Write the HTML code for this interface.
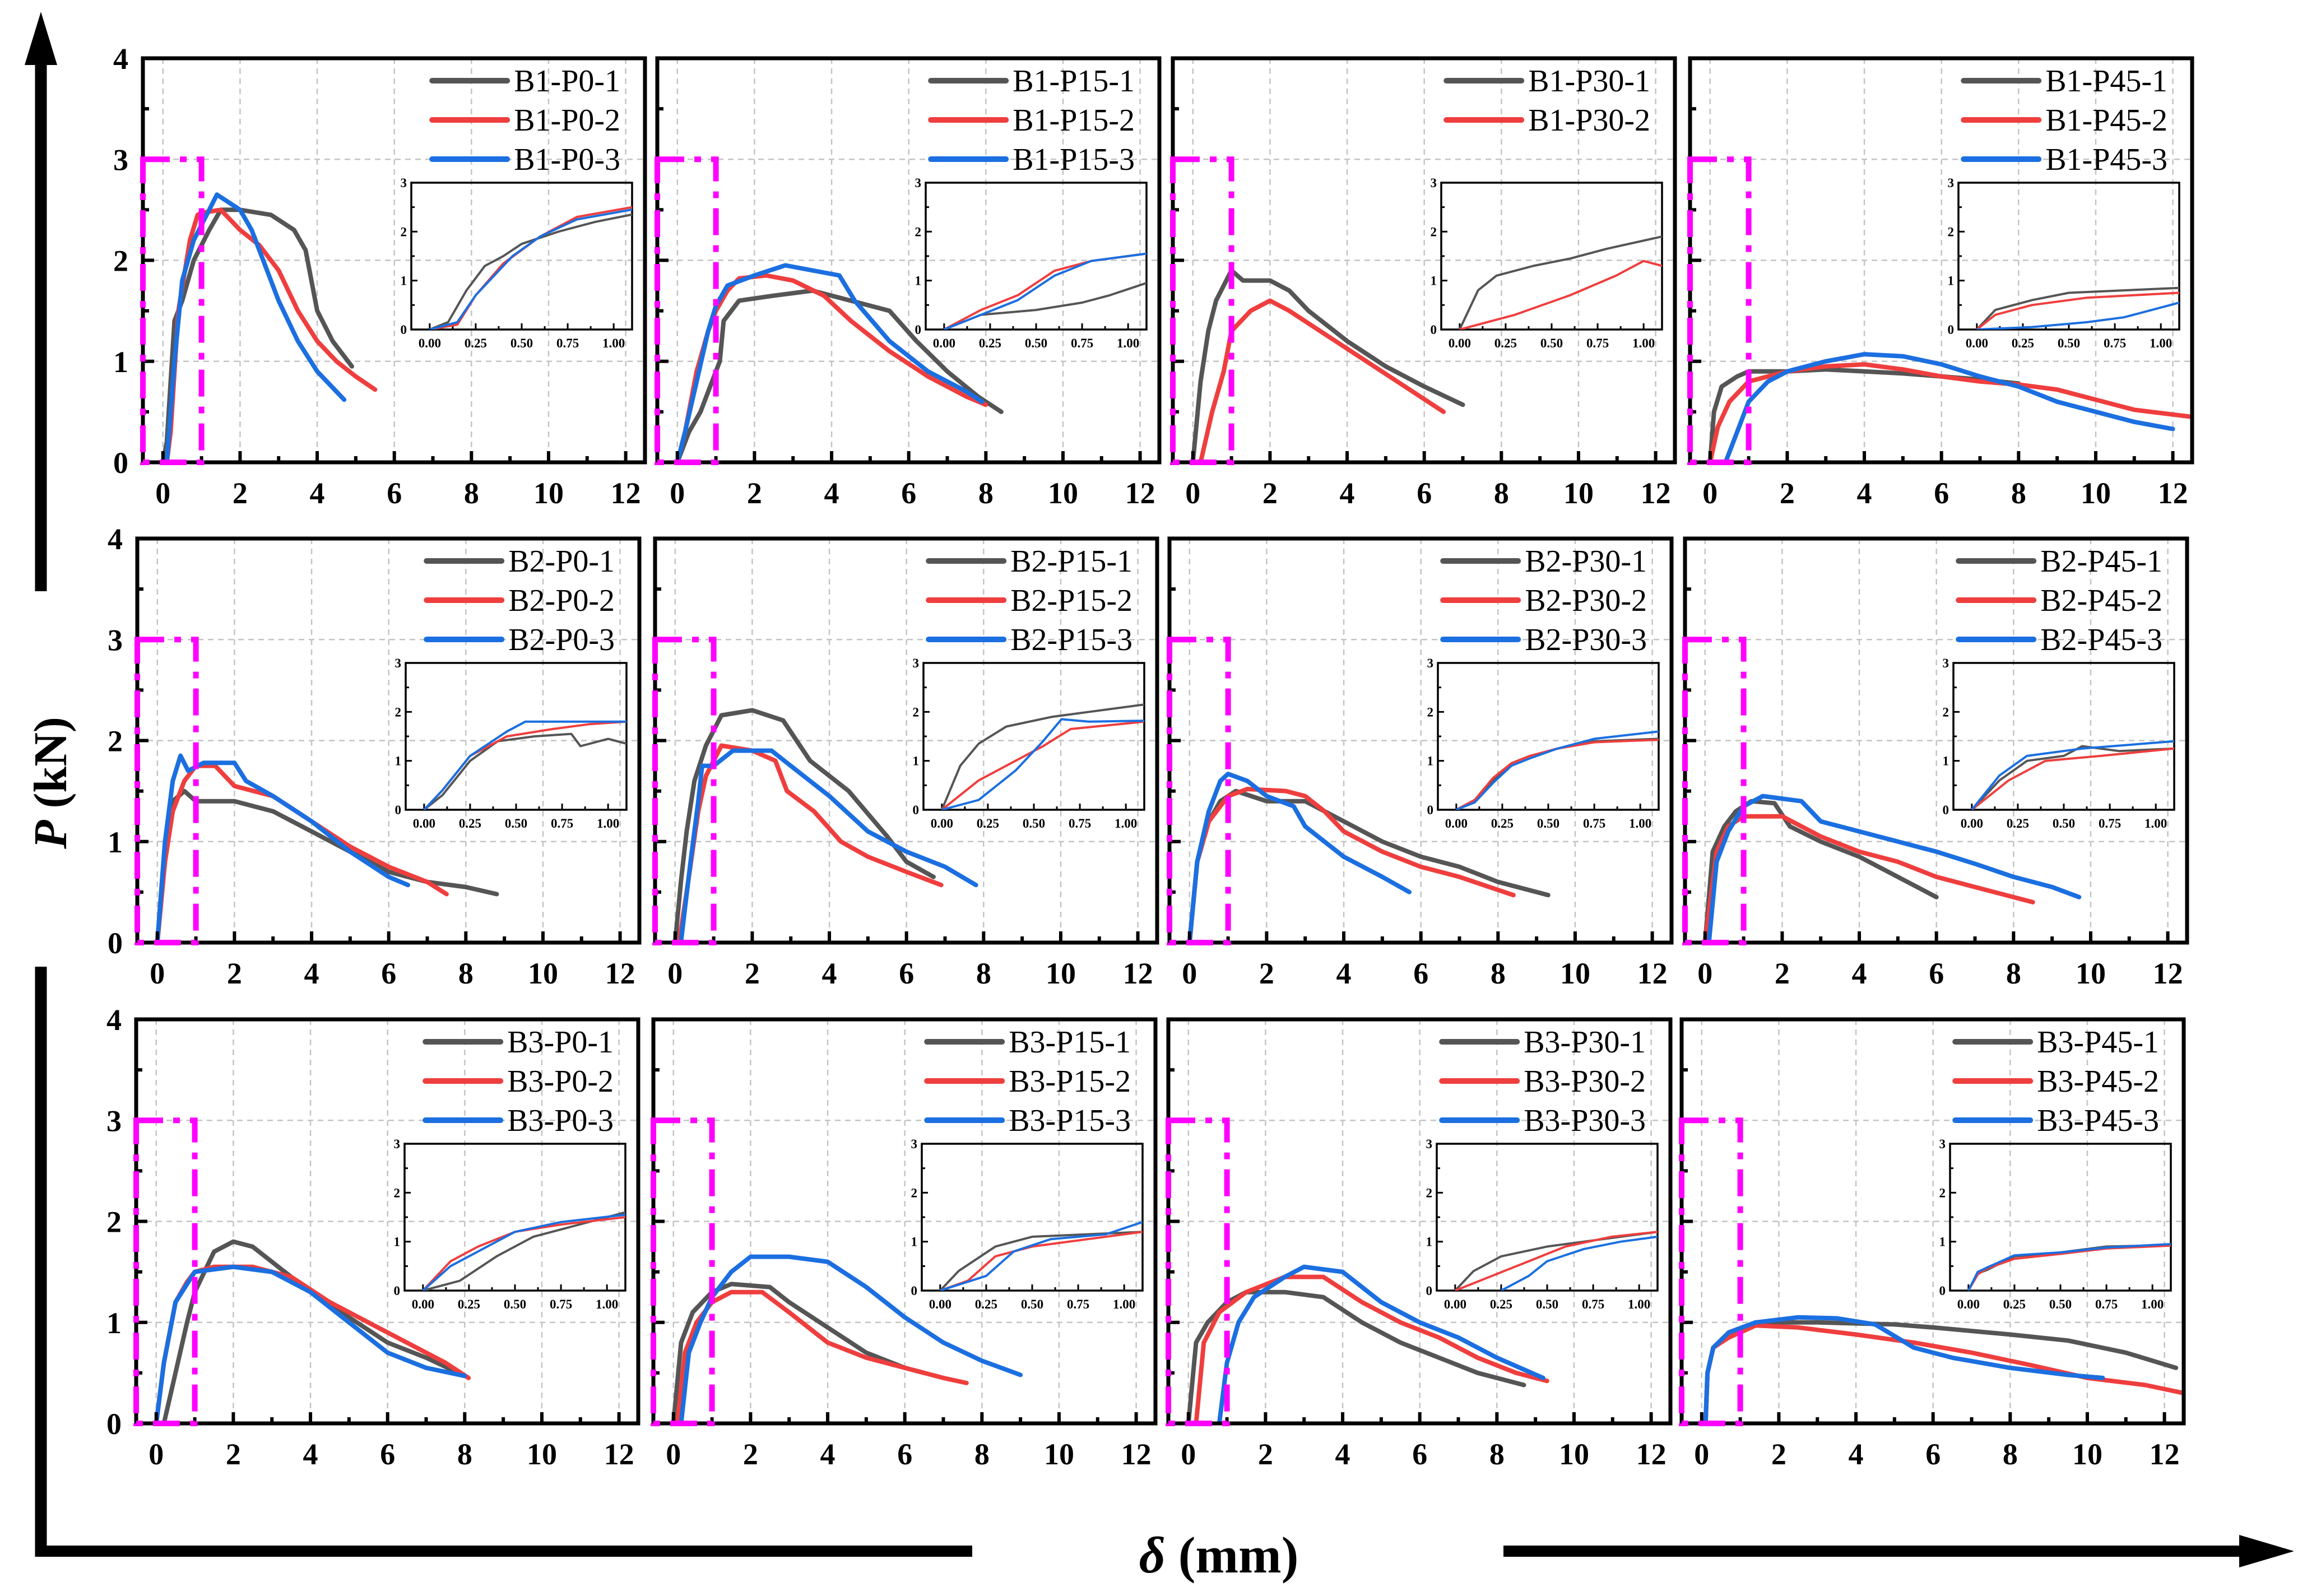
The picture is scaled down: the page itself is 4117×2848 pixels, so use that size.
<!DOCTYPE html>
<html><head><meta charset="utf-8">
<style>
html,body{margin:0;padding:0;background:#fff;}
svg{display:block;}
</style></head>
<body>
<svg id="chart" width="4117" height="2848" viewBox="0 0 4117 2848" xmlns="http://www.w3.org/2000/svg">
<rect width="4117" height="2848" fill="#fff"/>
<g>
<line x1="73" y1="100" x2="73" y2="1055" stroke="#000" stroke-width="21"/>
<line x1="73" y1="1725" x2="73" y2="2778" stroke="#000" stroke-width="21"/>
<polygon points="73,21 44,116 102,116" fill="#000"/>
</g>
<g>
<line x1="63" y1="2768" x2="1735" y2="2768" stroke="#000" stroke-width="20"/>
<line x1="2683" y1="2768" x2="4000" y2="2768" stroke="#000" stroke-width="20"/>
<polygon points="4094,2768 3996,2739 3996,2797" fill="#000"/>
</g>
<text transform="translate(118,1397) rotate(-90)" text-anchor="middle" font-family="Liberation Serif, serif" font-weight="bold" font-size="84"><tspan font-style="italic">P</tspan>  (kN)</text>
<text x="2175" y="2806" text-anchor="middle" font-family="Liberation Serif, serif" font-weight="bold" font-size="92"><tspan font-style="italic">δ</tspan>  (mm)</text>
<g id="panels"></g>
</svg>
<script>
// ---- data (x in mm, y in kN) ----
const panelNames = ["B1-P0","B1-P15","B1-P30","B1-P45","B2-P0","B2-P15","B2-P30","B2-P45","B3-P0","B3-P15","B3-P30","B3-P45"];
const xTicks = [0,2,4,6,8,10,12];
const yTicks = [0,1,2,3,4];
const insetXTicks = ["0.00","0.25","0.50","0.75","1.00"];
const insetYTicks = [0,1,2,3];

const B1P0_main = [
 [[0,0],[0.1,0.2],[0.3,1.4],[0.5,1.6],[0.8,2.0],[1.2,2.3],[1.5,2.5],[2,2.5],[2.8,2.45],[3.4,2.3],[3.7,2.1],[4.0,1.5],[4.4,1.2],[4.9,0.95]],
 [[0.1,0],[0.2,0.3],[0.4,1.5],[0.7,2.2],[0.9,2.45],[1.0,2.47],[1.5,2.5],[2.0,2.3],[2.5,2.15],[3.0,1.9],[3.5,1.5],[4.0,1.2],[4.5,1.0],[5.0,0.85],[5.5,0.72]],
 [[0.1,0],[0.3,1.0],[0.5,1.8],[0.8,2.2],[1.2,2.5],[1.4,2.65],[2.0,2.5],[2.3,2.3],[2.6,2.0],[3.0,1.6],[3.5,1.2],[4.0,0.9],[4.5,0.7],[4.7,0.62]]];
const B1P0_inset = [
 [[0,0],[0.1,0.15],[0.2,0.8],[0.3,1.3],[0.4,1.5],[0.5,1.75],[0.7,2.0],[0.9,2.2],[1.1,2.35]],
 [[0,0],[0.15,0.1],[0.25,0.7],[0.4,1.35],[0.6,1.9],[0.8,2.3],[1.1,2.5]],
 [[0,0],[0.15,0.15],[0.25,0.7],[0.45,1.5],[0.6,1.9],[0.8,2.25],[1.1,2.45]]];

const B1P15_main = [
 [[0,0],[0.3,0.3],[0.6,0.5],[0.9,0.8],[1.1,1.0],[1.2,1.4],[1.6,1.6],[2.5,1.65],[3.5,1.7],[4.5,1.6],[5.5,1.5],[6.2,1.2],[7,0.9],[7.8,0.65],[8.4,0.5]],
 [[0,0],[0.2,0.3],[0.5,0.9],[0.8,1.3],[1.0,1.5],[1.3,1.7],[1.6,1.82],[2.3,1.85],[3,1.8],[3.8,1.65],[4.5,1.4],[5.5,1.1],[6.5,0.85],[7.5,0.65],[8,0.57]],
 [[0,0],[0.2,0.3],[0.5,0.8],[0.8,1.3],[1.0,1.55],[1.3,1.75],[2,1.85],[2.8,1.95],[3.5,1.9],[4.2,1.85],[4.6,1.6],[5.5,1.2],[6.5,0.9],[7.5,0.7],[7.9,0.6]]];
const B1P15_inset = [
 [[0,0],[0.2,0.3],[0.5,0.4],[0.75,0.55],[0.9,0.7],[1.1,0.95]],
 [[0,0],[0.2,0.4],[0.4,0.7],[0.6,1.2],[0.8,1.4],[1.1,1.55]],
 [[0,0],[0.2,0.3],[0.4,0.6],[0.6,1.1],[0.8,1.4],[1.1,1.55]]];

const B1P30_main = [
 [[0,0],[0.2,0.8],[0.4,1.3],[0.6,1.6],[0.8,1.75],[1.0,1.9],[1.3,1.8],[2,1.8],[2.5,1.7],[3,1.5],[4,1.2],[5,0.95],[6,0.75],[7,0.57]],
 [[0.2,0],[0.5,0.5],[0.8,0.9],[1.0,1.3],[1.5,1.5],[2.0,1.6],[2.5,1.5],[3.5,1.25],[4.5,1.0],[5.5,0.75],[6.5,0.5]]];
const B1P30_inset = [
 [[0,0],[0.1,0.8],[0.2,1.1],[0.4,1.3],[0.6,1.45],[0.8,1.65],[1.1,1.9]],
 [[0,0],[0.1,0.1],[0.3,0.3],[0.6,0.7],[0.85,1.1],[1.0,1.4],[1.1,1.3]]];

const B1P45_main = [
 [[0,0],[0.1,0.5],[0.3,0.75],[0.7,0.85],[1,0.9],[2,0.9],[3,0.92],[4,0.9],[5,0.88],[6,0.85],[7,0.82],[8,0.78]],
 [[0,0],[0.2,0.35],[0.5,0.6],[1,0.8],[2,0.9],[3,0.95],[4,0.97],[5,0.92],[6,0.85],[7,0.8],[8,0.77],[9,0.72],[10,0.62],[11,0.52],[12.5,0.45]],
 [[0.4,0],[0.7,0.3],[1,0.6],[1.5,0.8],[2,0.9],[3,1.0],[4,1.07],[5,1.05],[6,0.97],[7,0.85],[8,0.75],[9,0.6],[10,0.5],[11,0.4],[12,0.33]]];
const B1P45_inset = [
 [[0,0],[0.1,0.4],[0.3,0.6],[0.5,0.75],[0.8,0.8],[1.1,0.85]],
 [[0,0],[0.1,0.3],[0.3,0.5],[0.6,0.65],[1.1,0.75]],
 [[0,0],[0.3,0.05],[0.6,0.15],[0.8,0.25],[1.1,0.55]]];

const B2P0_main = [
 [[0,0],[0.2,1.0],[0.4,1.4],[0.7,1.5],[1,1.4],[2,1.4],[3,1.3],[4,1.1],[5,0.9],[6,0.7],[7,0.6],[8,0.55],[8.8,0.48]],
 [[0,0],[0.2,0.8],[0.4,1.3],[0.7,1.6],[1,1.75],[1.5,1.75],[2,1.55],[3,1.45],[4,1.2],[5,0.95],[6,0.75],[7,0.6],[7.5,0.48]],
 [[0,0],[0.2,1.0],[0.4,1.6],[0.6,1.85],[0.8,1.7],[1.2,1.78],[2,1.78],[2.3,1.6],[3,1.45],[4,1.2],[5,0.9],[6,0.65],[6.5,0.57]]];
const B2P0_inset = [
 [[0,0],[0.1,0.3],[0.25,1.0],[0.4,1.4],[0.6,1.5],[0.8,1.55],[0.85,1.3],[1.0,1.45],[1.1,1.35]],
 [[0,0],[0.1,0.4],[0.25,1.1],[0.45,1.5],[0.7,1.65],[0.9,1.75],[1.1,1.8]],
 [[0,0],[0.1,0.4],[0.25,1.1],[0.45,1.6],[0.55,1.8],[0.8,1.8],[1.1,1.8]]];

const B2P15_main = [
 [[0,0],[0.15,0.6],[0.3,1.1],[0.5,1.6],[0.8,1.95],[1.0,2.1],[1.2,2.25],[2,2.3],[2.8,2.2],[3.5,1.8],[4.5,1.5],[5.5,1.05],[6,0.8],[6.7,0.65]],
 [[0.1,0],[0.3,0.5],[0.6,1.3],[0.8,1.65],[1.2,1.95],[2,1.9],[2.6,1.8],[2.9,1.5],[3.6,1.3],[4.3,1.0],[5,0.85],[6,0.7],[6.9,0.57]],
 [[0.15,0],[0.4,0.8],[0.6,1.4],[0.7,1.75],[1,1.75],[1.5,1.9],[2.5,1.9],[3,1.75],[4,1.45],[5,1.1],[6,0.9],[7,0.75],[7.8,0.57]]];
const B2P15_inset = [
 [[0,0],[0.1,0.9],[0.2,1.35],[0.35,1.7],[0.6,1.9],[0.8,2.0],[1.1,2.15]],
 [[0,0],[0.2,0.6],[0.35,0.9],[0.55,1.3],[0.7,1.65],[1.1,1.8]],
 [[0,0],[0.2,0.2],[0.4,0.8],[0.55,1.4],[0.65,1.85],[0.8,1.8],[1.1,1.82]]];

const B2P30_main = [
 [[0,0],[0.2,0.8],[0.5,1.2],[0.8,1.4],[1.2,1.5],[2,1.4],[3,1.4],[4,1.2],[5,1.0],[6,0.85],[7,0.75],[8,0.6],[9.3,0.47]],
 [[0,0],[0.2,0.8],[0.5,1.2],[1,1.45],[1.5,1.52],[2.5,1.5],[3,1.45],[3.5,1.3],[4,1.1],[5,0.9],[6,0.75],[7,0.65],[8.4,0.47]],
 [[0,0],[0.2,0.8],[0.5,1.3],[0.8,1.6],[1,1.67],[1.5,1.6],[2,1.45],[2.7,1.35],[3,1.15],[3.5,1.0],[4,0.85],[5,0.65],[5.7,0.5]]];
const B2P30_inset = [
 [[0,0],[0.1,0.2],[0.2,0.6],[0.3,0.95],[0.4,1.1],[0.55,1.25],[0.75,1.4],[1.1,1.45]],
 [[0,0],[0.1,0.2],[0.2,0.65],[0.3,0.95],[0.4,1.1],[0.55,1.25],[0.75,1.38],[1.1,1.43]],
 [[0,0],[0.1,0.15],[0.2,0.55],[0.3,0.9],[0.4,1.05],[0.55,1.25],[0.75,1.45],[1.1,1.6]]];

const B2P45_main = [
 [[0,0],[0.2,0.9],[0.5,1.15],[0.8,1.3],[1.2,1.4],[1.8,1.38],[2.2,1.15],[3,1.0],[4,0.85],[5,0.65],[6,0.45]],
 [[0,0],[0.3,0.9],[0.6,1.15],[1,1.25],[2,1.25],[3,1.05],[4,0.9],[5,0.8],[6,0.65],[7,0.55],[8.5,0.4]],
 [[0.1,0],[0.3,0.8],[0.6,1.1],[1,1.35],[1.5,1.45],[2.5,1.4],[3,1.2],[4,1.1],[5,1.0],[6,0.9],[7,0.78],[8,0.65],[9,0.55],[9.7,0.45]]];
const B2P45_inset = [
 [[0,0],[0.15,0.6],[0.3,1.0],[0.5,1.1],[0.6,1.3],[0.8,1.2],[1.1,1.25]],
 [[0,0],[0.2,0.6],[0.4,1.0],[0.7,1.1],[1.1,1.25]],
 [[0,0],[0.15,0.7],[0.3,1.1],[0.6,1.25],[1.1,1.4]]];

const B3P0_main = [
 [[0.2,0],[0.5,0.5],[0.8,1.0],[1,1.3],[1.5,1.7],[2,1.8],[2.5,1.75],[3,1.6],[4,1.3],[5,1.05],[6,0.8],[7,0.65],[8,0.47]],
 [[0,0],[0.2,0.6],[0.5,1.2],[0.8,1.4],[1,1.5],[1.5,1.55],[2.5,1.55],[3.5,1.45],[4.5,1.2],[5.5,1.0],[6.5,0.8],[7.5,0.6],[8.1,0.45]],
 [[0,0],[0.2,0.6],[0.5,1.2],[1,1.5],[2,1.55],[3,1.5],[4,1.3],[5,1.0],[6,0.7],[7,0.55],[8,0.47]]];
const B3P0_inset = [
 [[0,0],[0.2,0.2],[0.4,0.7],[0.6,1.1],[0.8,1.3],[1.1,1.6]],
 [[0,0],[0.15,0.6],[0.3,0.9],[0.5,1.2],[0.75,1.35],[1.1,1.5]],
 [[0,0],[0.15,0.5],[0.3,0.8],[0.5,1.2],[0.75,1.4],[1.1,1.55]]];

const B3P15_main = [
 [[0,0],[0.2,0.8],[0.5,1.1],[1,1.3],[1.5,1.38],[2.5,1.35],[3,1.2],[4,0.95],[5,0.7],[6,0.55],[6.5,0.5]],
 [[0.1,0],[0.3,0.7],[0.6,1.0],[1,1.2],[1.5,1.3],[2.3,1.3],[3,1.1],[4,0.8],[5,0.65],[6,0.55],[7,0.45],[7.6,0.4]],
 [[0.2,0],[0.4,0.7],[0.7,1.0],[1,1.25],[1.5,1.5],[2,1.65],[3,1.65],[4,1.6],[5,1.35],[6,1.05],[7,0.8],[8,0.62],[9,0.48]]];
const B3P15_inset = [
 [[0,0],[0.1,0.4],[0.3,0.9],[0.5,1.1],[1.1,1.2]],
 [[0,0],[0.15,0.2],[0.3,0.7],[0.5,0.9],[0.8,1.05],[1.1,1.2]],
 [[0,0],[0.25,0.3],[0.4,0.8],[0.6,1.05],[0.9,1.15],[1.1,1.4]]];

const B3P30_main = [
 [[0,0],[0.2,0.8],[0.5,1.0],[1,1.2],[1.5,1.3],[2.5,1.3],[3.5,1.25],[4.5,1.0],[5.5,0.8],[6.5,0.65],[7.5,0.5],[8.7,0.38]],
 [[0.2,0],[0.4,0.8],[0.8,1.1],[1.5,1.3],[2.5,1.45],[3.5,1.45],[4.5,1.2],[5.5,1.0],[6.5,0.85],[7.5,0.65],[8.5,0.5],[9.3,0.42]],
 [[0.8,0],[1.0,0.6],[1.3,1.0],[1.7,1.25],[2.5,1.45],[3,1.55],[4,1.5],[5,1.2],[6,1.0],[7,0.85],[8,0.65],[9.2,0.45]]];
const B3P30_inset = [
 [[0,0],[0.1,0.4],[0.25,0.7],[0.5,0.9],[0.8,1.05],[1.1,1.2]],
 [[0,0],[0.2,0.3],[0.4,0.6],[0.6,0.9],[0.85,1.1],[1.1,1.2]],
 [[0.25,0],[0.4,0.3],[0.5,0.6],[0.7,0.85],[0.9,1.0],[1.1,1.1]]];

const B3P45_main = [
 [[0.1,0],[0.15,0.5],[0.3,0.75],[0.7,0.9],[1.4,1.0],[3,1.0],[5,0.98],[6,0.95],[8,0.88],[9.5,0.82],[11,0.7],[12.3,0.55]],
 [[0.1,0],[0.15,0.5],[0.3,0.75],[0.7,0.85],[1.4,0.97],[2.5,0.95],[4,0.88],[5.5,0.8],[7,0.7],[8.5,0.58],[10,0.45],[11.5,0.38],[12.5,0.3]],
 [[0.1,0],[0.15,0.5],[0.3,0.75],[0.7,0.9],[1.4,1.0],[2.5,1.05],[3.5,1.04],[4.5,0.98],[5.5,0.75],[6.5,0.65],[8,0.55],[9.5,0.48],[10.4,0.45]]];
const B3P45_inset = [
 [[0,0],[0.05,0.35],[0.1,0.42],[0.25,0.7],[0.5,0.78],[0.75,0.9],[1.1,0.93]],
 [[0,0],[0.05,0.33],[0.1,0.45],[0.25,0.65],[0.5,0.75],[0.75,0.86],[1.1,0.92]],
 [[0,0],[0.05,0.38],[0.1,0.47],[0.25,0.72],[0.5,0.78],[0.75,0.88],[1.1,0.95]]];

const mainData = [B1P0_main,B1P15_main,B1P30_main,B1P45_main,B2P0_main,B2P15_main,B2P30_main,B2P45_main,B3P0_main,B3P15_main,B3P30_main,B3P45_main];
const insetData = [B1P0_inset,B1P15_inset,B1P30_inset,B1P45_inset,B2P0_inset,B2P15_inset,B2P30_inset,B2P45_inset,B3P0_inset,B3P15_inset,B3P30_inset,B3P45_inset];

// ---- layout ----
const NS = "http://www.w3.org/2000/svg";
const colors = ["#555555","#ef3e3e","#1b6fe0"];
const rowTops = [104, 961, 1819];
const colLefts = [[255,1173,2093,3016],[245,1169,2087,3007],[243,1166,2085,3001]];
const PW = 896, PH = 721;
const XMIN = -0.52, XMAX = 12.5, YMIN = 0, YMAX = 4;
const IX = 479, IY = 222, IW = 394, IH = 262, IXMIN = -0.1, IXMAX = 1.1, IYMAX = 3;

function mk(tag, attrs, parent) {
  const e = document.createElementNS(NS, tag);
  for (const k in attrs) e.setAttribute(k, attrs[k]);
  if (parent) parent.appendChild(e);
  return e;
}
function xScale(L, v) { return L + (v - XMIN) / (XMAX - XMIN) * PW; }
function yScale(T, v) { return T + PH - (v - YMIN) / (YMAX - YMIN) * PH; }
function ixScale(L, v) { return L + IX + (v - IXMIN) / (IXMAX - IXMIN) * IW; }
function iyScale(T, v) { return T + IY + IH - v / IYMAX * IH; }

const root = document.getElementById("panels");
for (let p = 0; p < 12; p++) {
  const r = Math.floor(p / 4), c = p % 4;
  const L = colLefts[r][c], T = rowTops[r];
  const g = mk("g", {}, root);
  
  
  const clip = mk("clipPath", {id: "clip" + p}, g);
  mk("rect", {x: L, y: T, width: PW, height: PH}, clip);
  for (const t of xTicks) {
    const gl = mk("line", {x1: xScale(L, t), x2: xScale(L, t), y1: T, y2: T + PH, stroke: "#c4c4c4", "stroke-width": 2.5, "stroke-dasharray": "10,8"}, g);
    
    
  }
  for (const t of [1,2,3]) {
    const gl = mk("line", {x1: L, x2: L + PW, y1: yScale(T, t), y2: yScale(T, t), stroke: "#c4c4c4", "stroke-width": 2.5, "stroke-dasharray": "10,8"}, g);
    
    
  }
  const ig = mk("g", {}, g);
  
  
  mk("rect", {x: L + IX, y: T + IY, width: IW, height: IH, fill: "none", stroke: "#000", "stroke-width": 3.5}, ig);
  for (let i = 0; i <= 8; i++) {
    const v = i * 0.125, x = ixScale(L, v), len = i % 2 ? 6 : 11;
    mk("line", {x1: x, x2: x, y1: T + IY + IH, y2: T + IY + IH - len, stroke: "#000", "stroke-width": 3}, ig);
  }
  for (let i = 0; i <= 6; i++) {
    const v = i * 0.5, y = iyScale(T, v), len = i % 2 ? 6 : 11;
    mk("line", {x1: L + IX, x2: L + IX + len, y1: y, y2: y, stroke: "#000", "stroke-width": 3}, ig);
  }
  insetXTicks.forEach((s, i) => {
    const t = mk("text", {x: ixScale(L, i * 0.25), y: T + IY + IH + 32, "text-anchor": "middle", "font-family": "Liberation Serif, serif", "font-weight": "bold", "font-size": 23}, ig);
    t.textContent = s;
    
    
  });
  insetYTicks.forEach(v => {
    const t = mk("text", {x: L + IX - 8, y: iyScale(T, v) + 8, "text-anchor": "end", "font-family": "Liberation Serif, serif", "font-weight": "bold", "font-size": 23}, ig);
    t.textContent = v;
    
    
  });
  const iclip = mk("clipPath", {id: "iclip" + p}, g);
  mk("rect", {x: L + IX, y: T + IY, width: IW, height: IH}, iclip);
  insetData[p].forEach((s, k) => {
    const d = s.map((pt, i) => (i ? "L" : "M") + ixScale(L, pt[0]).toFixed(1) + "," + iyScale(T, pt[1]).toFixed(1)).join("");
    const path = mk("path", {d: d, fill: "none", stroke: colors[k], "stroke-width": 4, "stroke-linejoin": "round", "clip-path": "url(#iclip" + p + ")"}, ig);
    
    
  });
  mainData[p].forEach((s, k) => {
    const d = s.map((pt, i) => (i ? "L" : "M") + xScale(L, pt[0]).toFixed(1) + "," + yScale(T, pt[1]).toFixed(1)).join("");
    const path = mk("path", {d: d, fill: "none", stroke: colors[k], "stroke-width": 8, "stroke-linejoin": "round", "stroke-linecap": "round", "clip-path": "url(#clip" + p + ")"}, g);
    
    
  });
  const fr = mk("rect", {x: L, y: T, width: PW, height: PH, fill: "none", stroke: "#000", "stroke-width": 7}, g);
  
  
  for (let v = 0; v <= 12; v++) {
    const x = xScale(L, v), len = v % 2 ? 11 : 20;
    mk("line", {x1: x, x2: x, y1: T + PH, y2: T + PH - len, stroke: "#000", "stroke-width": 6}, g);
  }
  for (let i = 0; i <= 8; i++) {
    const y = yScale(T, i * 0.5), len = i % 2 ? 11 : 20;
    mk("line", {x1: L, x2: L + len, y1: y, y2: y, stroke: "#000", "stroke-width": 6}, g);
  }
  const box = mk("path", {d: "M" + L + "," + yScale(T, 3) + "L" + xScale(L, 1) + "," + yScale(T, 3) + "L" + xScale(L, 1) + "," + (T + PH) + "L" + L + "," + (T + PH) + "Z", fill: "none", stroke: "#ff00ff", "stroke-width": 10, "stroke-dasharray": "48,18,12,18"}, g);
  
  
  xTicks.forEach(v => {
    const t = mk("text", {x: xScale(L, v), y: T + PH + 73, "text-anchor": "middle", "font-family": "Liberation Serif, serif", "font-weight": "bold", "font-size": 54}, g);
    t.textContent = v;
    
    
  });
  if (c === 0) {
    yTicks.forEach(v => {
      const t = mk("text", {x: L - 26, y: yScale(T, v) + 19, "text-anchor": "end", "font-family": "Liberation Serif, serif", "font-weight": "bold", "font-size": 54}, g);
      t.textContent = v;
      
      
    });
  }
  const lg = mk("g", {}, g);
  
  
  mainData[p].forEach((s, k) => {
    const cy = T + 40 + k * 70;
    const t = mk("text", {x: L + 852, y: cy + 19, "text-anchor": "end", "font-family": "Liberation Serif, serif", "font-size": 56}, lg);
    t.textContent = panelNames[p] + "-" + (k + 1);
    
    
    const w = t.getComputedTextLength();
    const xs = L + 852 - w - 12;
    const ln = mk("line", {x1: xs - 134, x2: xs, y1: cy, y2: cy, stroke: colors[k], "stroke-width": 10, "stroke-linecap": "round"}, lg);
    
    
  });
}
</script>
</body></html>
